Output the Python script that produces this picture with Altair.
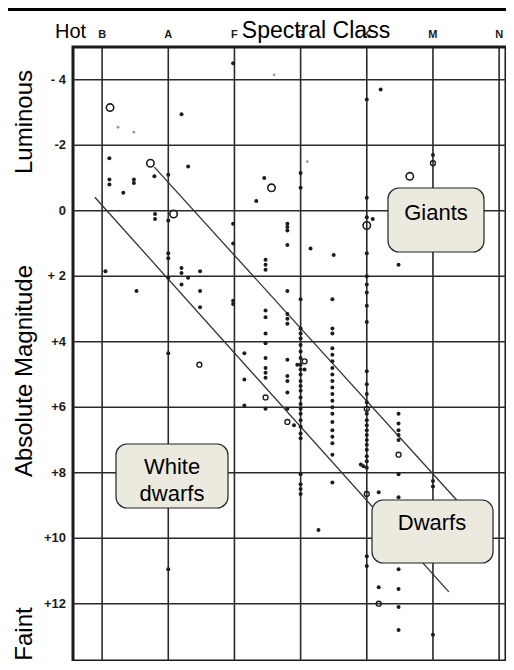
import altair as alt
import pandas as pd

# ---- data (spectral class index: B=0 ... N=6; absolute magnitude) ----
classes = ["B", "A", "F", "G", "K", "M", "N"]
class_pos = [0, 1, 2, 3, 4, 5, 6]

mag_ticks = [-4, -2, 0, 2, 4, 6, 8, 10, 12]
mag_labels = ["- 4", "-2", "0", "+ 2", "+4", "+6", "+8", "+10", "+12"]

dot_x = [
    0.11, 0.11, 0.11, 0.48, 0.48, 0.32, 0.05, 0.52,
    0.79, 1.3, 1.0, 1.2,
    0.8, 0.8, 1.0, 1.0, 1.0,
    1.2, 1.2, 1.3, 1.48, 1.0, 1.2, 1.48, 1.48,
    1.0, 1.0,
    1.98, 1.98, 1.98, 1.98, 1.98,
    2.33, 2.45, 2.15, 2.15, 2.15,
    2.47, 2.47, 2.47, 2.47, 2.47, 2.47, 2.47, 2.47, 2.47, 2.47, 2.47, 2.47,
    2.8, 2.8, 2.8, 2.8, 2.8, 2.8, 2.8, 2.8, 2.8, 2.8, 2.8, 2.8, 2.8, 2.9,
    3.0, 3.0, 3.0, 3.0, 3.0, 3.0, 3.0, 3.0, 3.0, 3.0, 3.0, 3.0, 3.0, 3.0,
    3.0, 3.0, 3.0, 3.0, 3.0, 3.0, 3.0, 3.0, 3.0, 3.0, 3.0, 3.0, 3.0,
    2.95, 3.06, 3.15, 3.27,
    3.5, 3.48, 3.48, 3.48, 3.48, 3.48, 3.48, 3.48, 3.48, 3.48, 3.48,
    3.48, 3.48, 3.48, 3.48, 3.48, 3.48, 3.48, 3.48, 3.48, 3.48,
    4.0, 4.21, 4.0, 4.0, 4.09, 4.0, 4.48, 4.0, 4.0, 4.0, 4.0, 4.0,
    4.0, 4.0, 4.0, 4.0, 4.0, 4.0, 4.0, 4.0, 4.0, 4.0, 4.0, 4.0, 4.0,
    4.0, 4.0, 3.91, 3.95, 4.0, 4.0, 4.18, 4.18,
    4.48, 4.48, 4.48, 4.48, 4.48, 4.48, 4.48, 4.48, 4.48, 4.48, 4.48,
    5.0, 5.0, 5.0, 5.0,
]
dot_y = [
    -1.6, -0.95, -0.8, -0.95, -0.85, -0.55, 1.85, 2.45,
    -1.05, -1.35, -1.1, -2.95,
    0.1, 0.25, 0.3, 1.3, 1.45,
    1.75, 1.9, 2.05, 1.85, 2.05, 2.25, 2.45, 2.95,
    4.35, 10.95,
    -4.5, 0.4, 1.0, 2.75, 2.85,
    -0.3, -1.0, 4.35, 5.15, 5.95,
    1.5, 1.65, 1.8, 3.05, 3.25, 3.75, 4.05, 4.5, 4.8, 4.95, 5.1, 6.05,
    0.4, 0.5, 0.6, 1.05, 2.45, 3.15, 3.3, 3.45, 4.55, 5.05, 5.2, 5.55, 6.05, 6.55,
    -1.15, -0.7, 2.7, 3.6, 3.75, 3.9, 4.1, 4.3, 4.5, 4.7, 4.85, 5.0, 5.2, 5.35,
    5.5, 5.7, 5.9, 6.05, 6.2, 6.4, 6.6, 6.8, 6.95, 8.05, 8.35, 8.5, 8.65,
    4.7, 4.85, 1.15, 9.75,
    1.35, 2.7, 3.6, 3.75, 4.2, 4.4, 4.6, 4.8, 5.0, 5.2, 5.4,
    5.6, 5.8, 6.0, 6.2, 6.45, 6.7, 6.9, 7.1, 7.45, 8.3,
    -3.4, -3.7, -0.4, 0.2, 0.25, 1.3, 1.65, 2.0, 2.25, 2.5, 2.9, 3.4,
    4.9, 5.3, 5.6, 5.85, 6.2, 6.4, 6.55, 6.7, 6.85, 7.0, 7.15, 7.3, 7.5,
    7.65, 7.85, 7.75, 7.8, 10.55, 10.85, 8.6, 11.5,
    6.2, 6.5, 6.7, 6.85, 7.0, 8.05, 8.75, 10.95, 11.55, 12.1, 12.8,
    -1.7, 8.25, 8.42, 12.95,
]

faint_x = [0.24, 0.48, 3.1, 2.6]
faint_y = [-2.55, -2.4, -1.5, -4.15]

big_ring_x = [0.12, 0.73, 1.08, 2.56, 4.65, 4.0]
big_ring_y = [-3.15, -1.45, 0.1, -0.7, -1.05, 0.45]

small_ring_x = [5.0, 1.47, 2.47, 2.8, 3.06, 4.0, 4.0, 4.48, 4.18]
small_ring_y = [-1.45, 4.7, 5.7, 6.45, 4.6, 6.05, 8.65, 7.45, 12.0]

# two sloping boundary lines of the main sequence band
band_x = [0.79, -0.11]
band_y = [-1.33, -0.41]
band_x2 = [5.45, 5.24]
band_y2 = [9.04, 11.64]

W, H = 433, 614
FONT = "Liberation Sans"
INK = "#1c1c1c"

xs = alt.Scale(domain=[-0.44, 6.104], nice=False, zero=False)
ys = alt.Scale(domain=[-5, 13.75], reverse=True, nice=False, zero=False)

df_dots = pd.DataFrame({"x": dot_x, "y": dot_y})
df_faint = pd.DataFrame({"x": faint_x, "y": faint_y})
df_big = pd.DataFrame({"x": big_ring_x, "y": big_ring_y})
df_small = pd.DataFrame({"x": small_ring_x, "y": small_ring_y})
df_band = pd.DataFrame({"x": band_x, "y": band_y, "x2": band_x2, "y2": band_y2})
df_cls = pd.DataFrame({"x": class_pos, "t": classes})
df_mag = pd.DataFrame({"y": mag_ticks, "t": mag_labels})

vgrid = alt.Chart(df_cls).mark_rule(color="#2a2a2a", strokeWidth=1.6).encode(
    x=alt.X("x:Q", scale=xs, axis=None))
hgrid = alt.Chart(df_mag).mark_rule(color="#2a2a2a", strokeWidth=1.6).encode(
    y=alt.Y("y:Q", scale=ys, axis=None))

band = alt.Chart(df_band).mark_rule(color="#333333", strokeWidth=1.3).encode(
    x=alt.X("x:Q", scale=xs, axis=None), y=alt.Y("y:Q", scale=ys, axis=None),
    x2="x2:Q", y2="y2:Q")

dots = alt.Chart(df_dots).mark_point(filled=True, shape="circle", size=16, color=INK, opacity=1).encode(
    x=alt.X("x:Q", scale=xs, axis=None), y=alt.Y("y:Q", scale=ys, axis=None))
faint = alt.Chart(df_faint).mark_point(filled=True, shape="circle", size=8, color="#9a9a9a", opacity=1).encode(
    x=alt.X("x:Q", scale=xs, axis=None), y=alt.Y("y:Q", scale=ys, axis=None))
big = alt.Chart(df_big).mark_point(shape="circle", size=55, color=INK, strokeWidth=1.6, opacity=1).encode(
    x=alt.X("x:Q", scale=xs, axis=None), y=alt.Y("y:Q", scale=ys, axis=None))
small = alt.Chart(df_small).mark_point(shape="circle", size=24, color=INK, strokeWidth=1.4, opacity=1).encode(
    x=alt.X("x:Q", scale=xs, axis=None), y=alt.Y("y:Q", scale=ys, axis=None))

cls_text = alt.Chart(df_cls).mark_text(font=FONT, fontSize=11, fontWeight="bold", color=INK,
                                       baseline="alphabetic").encode(
    x=alt.X("x:Q", scale=xs, axis=None), y=alt.value(-9), text="t:N")
mag_text = alt.Chart(df_mag).mark_text(font=FONT, fontSize=13, fontWeight="bold", color=INK,
                                       align="right", baseline="middle").encode(
    y=alt.Y("y:Q", scale=ys, axis=None), x=alt.value(-7), text="t:N")

one = pd.DataFrame({"k": [0]})


def label(txt, x, y, size=22, angle=0, align="center", baseline="middle"):
    kw = dict(font=FONT, fontSize=size, color="black", align=align, baseline=baseline, text=txt)
    if angle:
        kw["angle"] = angle
    return alt.Chart(one).mark_text(**kw).encode(x=alt.value(x), y=alt.value(y))


def box(x1, x2, y1, y2):
    return alt.Chart(one).mark_rect(cornerRadius=11, fill="#ECEADF", stroke="#222222",
                                    strokeWidth=1.2).encode(
        x=alt.value(x1), x2=alt.value(x2), y=alt.value(y1), y2=alt.value(y2))


top_bar = alt.Chart(one).mark_rule(color="black", strokeWidth=4).encode(
    x=alt.value(-80), x2=alt.value(460), y=alt.value(-38))

layers = [
    vgrid, hgrid, band, faint, dots, big, small, cls_text, mag_text, top_bar,
    label("Hot", -18, -9, size=20, align="left", baseline="alphabetic"),
    label("Spectral Class", 243, -9, size=23, baseline="alphabetic"),
    label("Luminous", -48, 75, size=24, angle=270),
    label("Absolute Magnitude", -48, 324, size=24, angle=270),
    label("Faint", -48, 587, size=24, angle=270),
    box(315, 411, 141, 205), label("Giants", 363, 166),
    box(43, 155, 397, 461), label("White", 99, 420), label("dwarfs", 99, 447),
    box(299, 420, 453, 516), label("Dwarfs", 359, 476),
]

chart = alt.layer(*layers).properties(
    width=W, height=H,
    autosize=alt.AutoSizeParams(type="none"),
    padding={"left": 65, "top": 39, "right": 0, "bottom": 0},
).configure_view(stroke="#1a1a1a", strokeWidth=3)

chart.save("out.html", embed_options={"renderer": "svg", "actions": False})
